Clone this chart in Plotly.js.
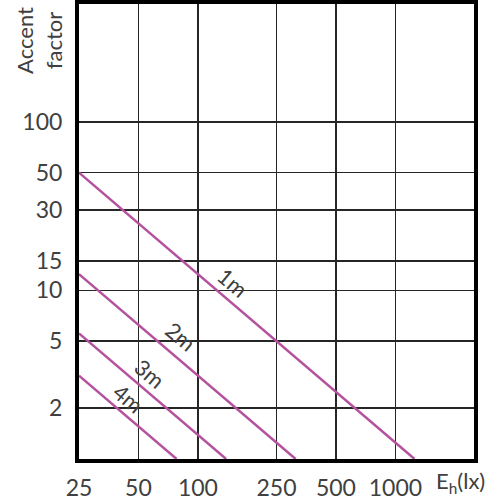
<!DOCTYPE html>
<html>
<head>
<meta charset="utf-8">
<script src="https://cdn.plot.ly/plotly-3.0.1.min.js"></script>
<style>html,body{margin:0;padding:0;background:#fff}#chart{width:500px;height:500px}</style>
</head>
<body>
<div id="chart"></div>
<script>
// Data (log-log straight lines, endpoints)
const distances = ["1m", "2m", "3m", "4m"];
const illuminanceStart = [25, 25, 25, 25];
const illuminanceEnd = [1250, 312.5, 139, 78];
const factorStart = [50, 12.5, 5.56, 3.12];
const factorEnd = [1, 1, 1, 1];
const labelX = [150, 82, 57, 44.6];
const labelY = [11.1, 5.3, 3.2, 2.29];
const xTicks = [25, 50, 100, 250, 500, 1000];
const xTickLabels = ["25", "50", "100", "250", "500", "1000"];
const yTicks = [2, 5, 10, 15, 30, 50, 100];
const yTickLabels = ["2", "5", "10", "15", "30", "50", "100"];

const lineColor = "#b4529d";
const textColor = "#404040";
const fontFamily = "Lato, 'Open Sans', sans-serif";

const traces = distances.map((d, i) => ({
  type: "scatter",
  mode: "lines",
  x: [illuminanceStart[i], illuminanceEnd[i]],
  y: [factorStart[i], factorEnd[i]],
  line: {color: lineColor, width: 2.5},
  hoverinfo: "skip",
  showlegend: false,
  cliponaxis: true
}));

const annotations = distances.map((d, i) => ({
  x: Math.log10(labelX[i]),
  y: Math.log10(labelY[i]),
  xref: "x", yref: "y",
  xanchor: "center", yanchor: "middle",
  text: d,
  showarrow: false,
  textangle: 40,
  font: {family: fontFamily, size: 22, color: textColor}
}));

annotations.push({
  xref: "paper", yref: "paper",
  x: -0.1, y: 0.92,
  xanchor: "center", yanchor: "middle",
  text: "Accent<br>factor",
  showarrow: false,
  textangle: -90,
  font: {family: fontFamily, size: 22, color: textColor}
});
annotations.push({
  xref: "paper", yref: "paper",
  x: 0.965, y: -0.05,
  xanchor: "center", yanchor: "middle",
  text: "E<sub>h</sub>(lx)",
  showarrow: false,
  font: {family: fontFamily, size: 22, color: textColor}
});

const layout = {
  width: 500, height: 500,
  margin: {l: 79, r: 26, t: 4, b: 41},
  paper_bgcolor: "#fff",
  plot_bgcolor: "#fff",
  showlegend: false,
  xaxis: {
    type: "log",
    range: [Math.log10(25), Math.log10(2500)],
    tickvals: xTicks,
    ticktext: xTickLabels,
    showgrid: true,
    gridcolor: "#262626",
    gridwidth: 1.8,
    zeroline: false,
    showline: true,
    linecolor: "#000",
    linewidth: 4,
    mirror: true,
    ticks: "",
    ticklabelstandoff: 5,
    tickfont: {family: fontFamily, size: 23, color: textColor}
  },
  yaxis: {
    type: "log",
    range: [0, Math.log10(500)],
    tickvals: yTicks,
    ticktext: yTickLabels,
    showgrid: true,
    gridcolor: "#262626",
    gridwidth: 1.8,
    zeroline: false,
    showline: true,
    linecolor: "#000",
    linewidth: 4,
    mirror: true,
    ticks: "",
    ticklabelstandoff: 8,
    tickfont: {family: fontFamily, size: 23, color: textColor}
  },
  annotations: annotations
};

Plotly.newPlot("chart", traces, layout, {displayModeBar: false, staticPlot: true});
</script>
</body>
</html>
